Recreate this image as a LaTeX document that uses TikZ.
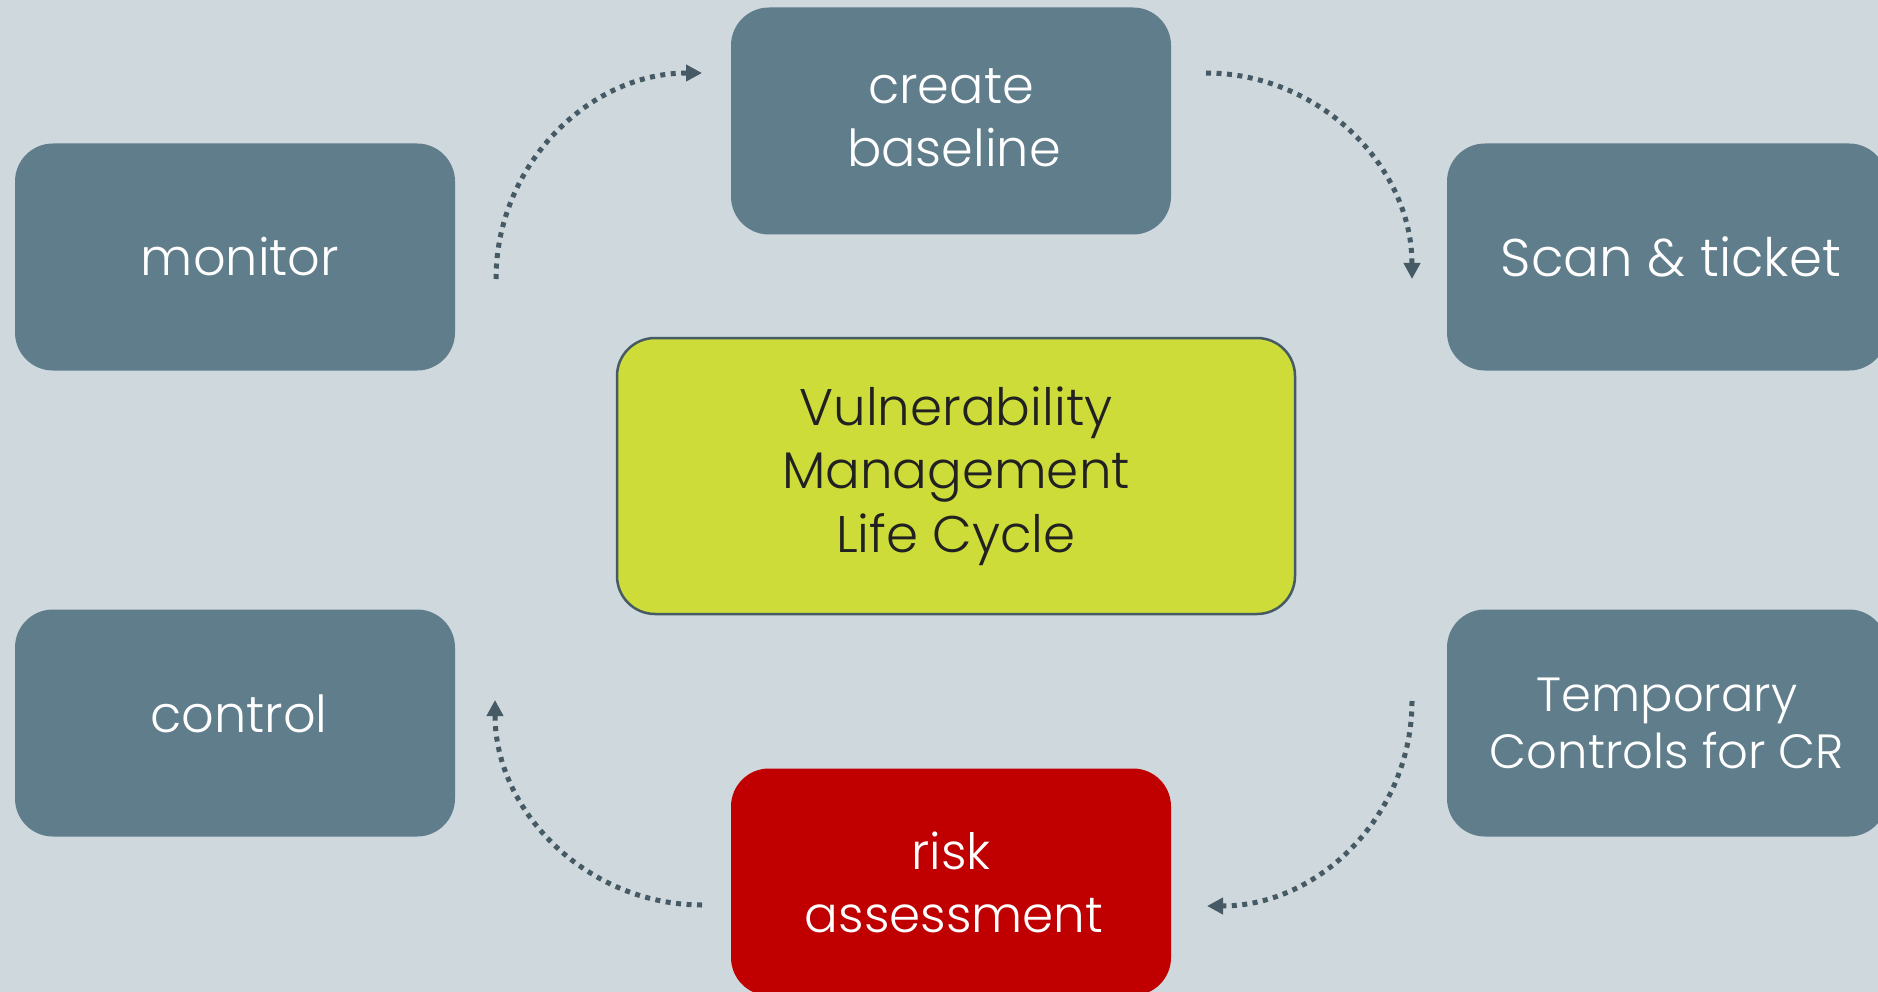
\documentclass[tikz,border=0pt]{standalone}
\usepackage{fontspec}
\setmainfont{Poppins Light}
\usetikzlibrary{arrows.meta}
\definecolor{bgc}{HTML}{CFD8DC}
\definecolor{boxc}{HTML}{607D8B}
\definecolor{limec}{HTML}{CDDC39}
\definecolor{darkc}{HTML}{455A64}
\definecolor{redc}{HTML}{C00000}
\definecolor{txtc}{HTML}{212121}
\tikzset{
  stepbox/.style={rectangle, rounded corners=38pt, fill=boxc, text=white,
    minimum width=440pt, minimum height=227pt, inner sep=0pt, align=center,
    font=\fontsize{51}{63}\selectfont},
  centerbox/.style={rectangle, rounded corners=38pt, fill=limec, draw=darkc, line width=2.5pt,
    text=txtc, minimum width=678pt, minimum height=276pt, inner sep=0pt, align=center,
    font=\fontsize{51.5}{63.5}\selectfont},
  flow/.style={draw=darkc, line width=5pt, dash pattern=on 5pt off 5.5pt,
    -{Triangle[length=16pt,width=16pt]}}
}
\begin{document}
\begin{tikzpicture}[x=1pt,y=-1pt]
\fill[bgc] (0,0) rectangle (1878,992);
\useasboundingbox (0,0) rectangle (1878,992);
\clip (0,0) rectangle (1878,992);
\node[stepbox] (monitor) at (235,257) {\hspace*{10pt}monitor};
\node[stepbox] (create) at (951,121) {\raisebox{3pt}[\height][\depth]{create}\\ \raisebox{3pt}[\height][\depth]{\hspace*{6pt}baseline}};
\node[stepbox, font=\fontsize{53}{63}\selectfont] (scan) at (1667,257) {\hspace*{8pt}Scan \& ticket};
\node[centerbox] (center) at (956,476) {Vulnerability\\Management\\Life Cycle};
\node[stepbox] (control) at (235,723) {\hspace*{8pt}\raisebox{9pt}[\height][\depth]{control}};
\node[stepbox, font=\fontsize{48}{57}\selectfont] (temp) at (1667,723) {Temporary\\Controls for CR};
\node[stepbox, fill=redc, font=\fontsize{50}{63}\selectfont] (risk) at (951,882) {risk\\ \hspace*{6pt}assessment};
\coordinate (a1s) at (496,279);
\coordinate (a1e) at (702,73);
\coordinate (a2s) at (1206,73);
\coordinate (a2e) at (1412,279);
\coordinate (a3s) at (1412,701);
\coordinate (a3e) at (1207,906);
\coordinate (a4s) at (702,905);
\coordinate (a4e) at (495,700);
\draw[flow] (a1s) .. controls (496,165) and (589,73) .. (a1e);
\draw[flow] (a2s) .. controls (1319,73) and (1412,166) .. (a2e);
\draw[flow] (a3s) .. controls (1412,814) and (1320,906) .. (a3e);
\draw[flow] (a4s) .. controls (589,905) and (495,813) .. (a4e);
\end{tikzpicture}
\end{document}
